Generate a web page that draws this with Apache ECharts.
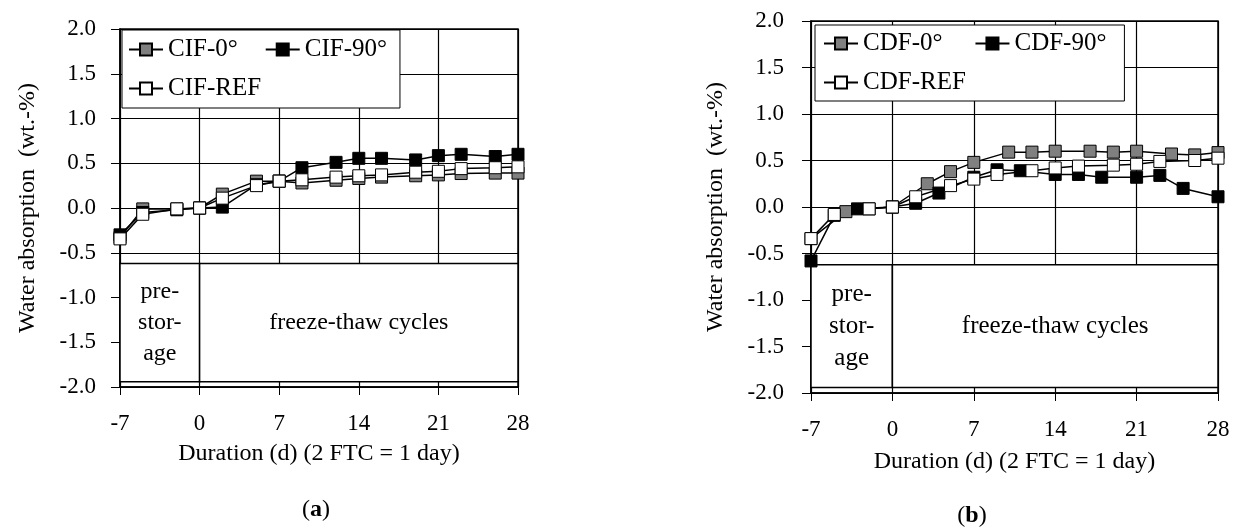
<!DOCTYPE html>
<html>
<head>
<meta charset="utf-8">
<script src="https://cdn.jsdelivr.net/npm/echarts@6.0.0/dist/echarts.min.js"></script>
<style>
html,body{margin:0;padding:0;background:#fff;}
#c{width:1240px;height:532px;}
</style>
</head>
<body>
<div id="c"></div>
<script>
// ---------- data ----------
const xTickValues = [-7, 0, 7, 14, 21, 28];
const yAxisName = 'Water absorption  (wt.-%)';
const xAxisName = 'Duration (d) (2 FTC = 1 day)';
const panelLabels = ['a', 'b'];

const cifNames = ['CIF-0°', 'CIF-90°', 'CIF-REF'];
const cif0Days = [-7, -5, -2, 0, 2, 5, 7, 9, 12, 14, 16, 19, 21, 23, 26, 28];
const cif0Vals = [-0.33, -0.01, -0.01, 0, 0.155, 0.30, 0.30, 0.28, 0.31, 0.33, 0.345, 0.36, 0.37, 0.385, 0.39, 0.39];
const cif90Days = [-7, -5, -2, 0, 2, 5, 7, 9, 12, 14, 16, 19, 21, 23, 26, 28];
const cif90Vals = [-0.30, -0.05, -0.02, 0, 0.01, 0.26, 0.30, 0.45, 0.51, 0.555, 0.555, 0.537, 0.585, 0.60, 0.575, 0.60];
const cifRefDays = [-7, -5, -2, 0, 2, 5, 7, 9, 12, 14, 16, 19, 21, 23, 26, 28];
const cifRefVals = [-0.345, -0.07, -0.01, 0, 0.11, 0.25, 0.30, 0.315, 0.345, 0.36, 0.37, 0.40, 0.41, 0.44, 0.45, 0.46];

const cdfNames = ['CDF-0°', 'CDF-90°', 'CDF-REF'];
const cdf0Days = [-7, -4, -2, 0, 3, 5, 7, 10, 12, 14, 17, 19, 21, 24, 26, 28];
const cdf0Vals = [-0.34, -0.05, -0.02, 0, 0.25, 0.38, 0.48, 0.59, 0.59, 0.60, 0.60, 0.59, 0.60, 0.57, 0.56, 0.585];
const cdf90Days = [-7, -5, -3, 0, 2, 4, 7, 9, 11, 14, 16, 18, 21, 23, 25, 28];
const cdf90Vals = [-0.58, -0.09, -0.02, 0, 0.04, 0.15, 0.32, 0.40, 0.39, 0.35, 0.35, 0.32, 0.32, 0.34, 0.20, 0.11];
const cdfRefDays = [-7, -5, -2, 0, 2, 5, 7, 9, 12, 14, 16, 19, 21, 23, 26, 28];
const cdfRefVals = [-0.34, -0.08, -0.02, 0, 0.11, 0.23, 0.30, 0.35, 0.39, 0.42, 0.44, 0.45, 0.46, 0.49, 0.50, 0.525];

const phaseLabels = ['pre-\nstor-\nage', 'freeze-thaw cycles'];
const phaseBounds = [-7, 0, 28];
const phaseTop = -0.62;
const phaseBottom = -1.94;

const seriesFills = ['#808080', '#000000', '#ffffff'];

// ---------- chart ----------
const FONT = '"Liberation Serif", "Times New Roman", serif';
const chart = echarts.init(document.getElementById('c'), null, { renderer: 'canvas' });

function pairs(xs, ys) { return xs.map((x, i) => [x, ys[i]]); }

function mkSeries(name, xs, ys, fill, idx) {
  return {
    type: 'line', name: name, xAxisIndex: idx, yAxisIndex: idx,
    data: pairs(xs, ys),
    symbol: 'rect', symbolSize: 12, showSymbol: true,
    lineStyle: { color: '#000', width: 1.5 },
    itemStyle: { color: fill, borderColor: '#000', borderWidth: 1 },
    emphasis: { disabled: true }, z: 3, animation: false
  };
}

function phaseSeries(idx, fs, lh) {
  return {
    type: 'line', name: 'phase' + idx, xAxisIndex: idx, yAxisIndex: idx,
    data: [], z: 1, silent: true, animation: false,
    markArea: {
      silent: true, animation: false,
      itemStyle: { color: '#fff', borderColor: '#000', borderWidth: 1.5 },
      label: { show: true, position: 'inside', color: '#000', fontFamily: FONT, fontSize: fs, lineHeight: lh },
      data: phaseLabels.map((lab, i) => [
        { name: lab, xAxis: phaseBounds[i], yAxis: phaseTop },
        { xAxis: phaseBounds[i + 1], yAxis: phaseBottom }
      ])
    }
  };
}

function xAx(idx, nameGap, margin) {
  return {
    type: 'value', gridIndex: idx, min: xTickValues[0], max: xTickValues[xTickValues.length - 1], interval: 7,
    name: xAxisName, nameLocation: 'middle', nameGap: nameGap,
    nameTextStyle: { color: '#000', fontFamily: FONT, fontSize: 24 },
    axisLine: { show: true, onZero: false, lineStyle: { color: '#000', width: 1.5 } },
    axisTick: { show: true, inside: false, length: 8, lineStyle: { color: '#000', width: 1 } },
    axisLabel: { margin: margin, color: '#000', fontFamily: FONT, fontSize: 23 },
    splitLine: { show: true, lineStyle: { color: '#000', width: 1.2 } }
  };
}

function yAx(idx, nameGap, margin) {
  return {
    type: 'value', gridIndex: idx, min: -2, max: 2, interval: 0.5,
    name: yAxisName, nameLocation: 'middle', nameGap: nameGap,
    nameTextStyle: { color: '#000', fontFamily: FONT, fontSize: 24 },
    axisLine: { show: true, onZero: false, lineStyle: { color: '#000', width: 1.5 } },
    axisTick: { show: true, inside: false, length: 9, lineStyle: { color: '#000', width: 1 } },
    axisLabel: { margin: margin, color: '#000', fontFamily: FONT, fontSize: 23, formatter: v => v.toFixed(1) },
    splitLine: { show: true, lineStyle: { color: '#000', width: 1.2 } }
  };
}

function mkLegend(names, left, top, width, fs, lh, padRight, pad) {
  return {
    data: names, left: left, top: top, width: width, orient: 'horizontal',
    itemWidth: 34, itemHeight: 15, itemGap: 14, padding: pad,
    backgroundColor: '#fff', borderColor: '#000', borderWidth: 1,
    textStyle: { color: '#000', fontFamily: FONT, fontSize: fs, lineHeight: lh, padding: [0, padRight, 0, 0] },
    selectedMode: false, z: 6
  };
}

function panelText(x, y, letter) {
  return {
    type: 'text', x: x, y: y, z: 10,
    style: {
      text: '{p|(}{b|' + letter + '}{p|)}',
      textAlign: 'center', textVerticalAlign: 'middle',
      fontFamily: FONT, fontSize: 24, fill: '#000',
      rich: {
        p: { fontFamily: FONT, fontSize: 24, fill: '#000' },
        b: { fontFamily: FONT, fontSize: 24, fontWeight: 'bold', fill: '#000' }
      }
    }
  };
}

const option = {
  animation: false,
  backgroundColor: '#fff',
  grid: [
    { left: 120, top: 29, width: 398, height: 358, show: true, borderColor: '#000', borderWidth: 1.5, containLabel: false, outerBoundsMode: 'none' },
    { left: 811, top: 21, width: 407, height: 372, show: true, borderColor: '#000', borderWidth: 1.5, containLabel: false, outerBoundsMode: 'none' }
  ],
  xAxis: [xAx(0, 55, 25), xAx(1, 57, 25)],
  yAxis: [yAx(0, 80, 24), yAx(1, 83, 27)],
  legend: [
    mkLegend(cifNames, 122, 30, 280, 25, 22, 13, [7, 0, 7, 6]),
    mkLegend(cdfNames, 815, 25, 320, 25, 24, 18, [6, 0, 6, 8])
  ],
  series: [
    phaseSeries(0, 24, 31),
    mkSeries(cifNames[0], cif0Days, cif0Vals, seriesFills[0], 0),
    mkSeries(cifNames[1], cif90Days, cif90Vals, seriesFills[1], 0),
    mkSeries(cifNames[2], cifRefDays, cifRefVals, seriesFills[2], 0),
    phaseSeries(1, 25, 32),
    mkSeries(cdfNames[0], cdf0Days, cdf0Vals, seriesFills[0], 1),
    mkSeries(cdfNames[1], cdf90Days, cdf90Vals, seriesFills[1], 1),
    mkSeries(cdfNames[2], cdfRefDays, cdfRefVals, seriesFills[2], 1)
  ],
  graphic: [panelText(316, 510, panelLabels[0]), panelText(972, 516, panelLabels[1])]
};

chart.setOption(option);
</script>
</body>
</html>
